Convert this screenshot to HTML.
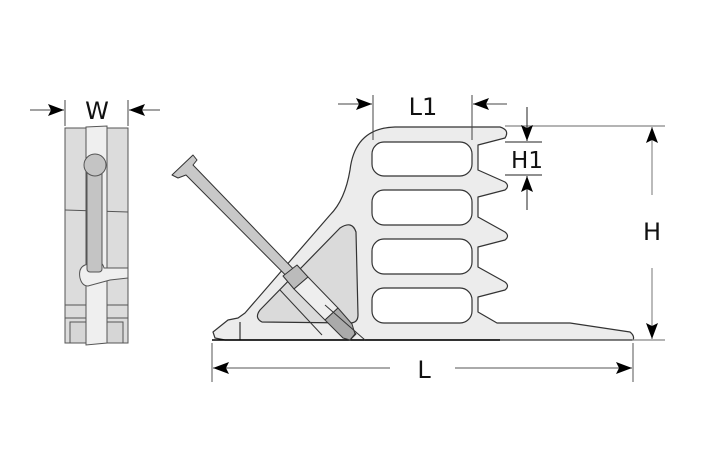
<!DOCTYPE html>
<html><head><style>body{margin:0;background:#fff}svg{display:block}text{font-family:"DejaVu Sans","Liberation Sans",sans-serif;fill:#111}</style></head>
<body>
<svg width="709" height="472" viewBox="0 0 709 472" xmlns="http://www.w3.org/2000/svg">
<defs>
<marker id="a" viewBox="0 0 16 12" refX="16" refY="6" markerWidth="16" markerHeight="12" orient="auto-start-reverse" markerUnits="userSpaceOnUse"><path d="M0,0 L16,6 L0,12 L3,6 z" fill="#000"/></marker>
</defs>
<!-- left view -->
<g stroke="#555" stroke-width="1">
<rect x="65" y="128" width="63" height="215" fill="#dcdcdc"/>
<line x1="65" y1="210" x2="128" y2="212"/>
<line x1="65" y1="305" x2="128" y2="305"/>
<line x1="65" y1="318" x2="128" y2="318"/>
<rect x="70" y="322" width="53" height="21" fill="#d6d6d6"/>
<path d="M86,127 L107,126 L107,343 L86,345 z" fill="#efefef"/>
<path d="M85,265 Q78,268 80,278 Q82,286 88,286 L110,280 L128,278 L128,268 L104,268 Q102,260 95,262 z" fill="#efefef"/>
<rect x="87" y="165" width="15" height="107" rx="3" fill="#c4c4c4"/>
<circle cx="95" cy="165" r="11" fill="#c4c4c4"/>
</g>
<!-- W dimension -->
<g stroke="#444" stroke-width="1">
<line x1="65" y1="100" x2="65" y2="126"/><line x1="128" y1="100" x2="128" y2="126"/>
<line x1="30" y1="110" x2="64" y2="110" marker-end="url(#a)"/>
<line x1="160" y1="110" x2="129" y2="110" marker-end="url(#a)"/>
</g>
<text x="97" y="119" font-size="24" text-anchor="middle">W</text>
<!-- main body -->
<g stroke="#333" stroke-width="1.2" stroke-linejoin="round">
<path d="M215,338 L213,332 L228,320 L238,318 L245,313 L330,215 Q345,200 350,170 Q355,128 395,127 L500,127 Q510,130 505,138 L478,145 L478,170 L505,182 Q510,186 505,190 L478,197 L478,217 L505,232 Q510,236 505,240 L478,247 L478,267 L505,282 Q510,286 505,290 L478,297 L478,312 L497,323 L570,323 L630,332 Q635,336 633,340 L225,340 Z" fill="#ececec"/>
<path d="M262,322 Q254,318 260,310 L340,228 Q352,220 356,232 L358,315 Q358,323 350,323 Z" fill="#dadada"/>
<rect x="372" y="142" width="100" height="34" rx="12" fill="#fff"/>
<rect x="372" y="190" width="100" height="35" rx="12" fill="#fff"/>
<rect x="372" y="239" width="100" height="35" rx="12" fill="#fff"/>
<rect x="372" y="288" width="100" height="35" rx="12" fill="#fff"/>
<line x1="240" y1="340" x2="240" y2="322"/>
</g>
<line x1="212" y1="340" x2="500" y2="340" stroke="#000" stroke-width="1.5"/>
<!-- tool -->
<g stroke="#333" stroke-width="1" stroke-linejoin="round">
<path d="M172,175 L193,155 L197,160 L193,165 L356,334 L350,340 L186,175 L178,178 Z" fill="#c8c8c8"/>
<path d="M283,276 L297,265 L308,277 L294,289 Z" fill="#bbb"/>
<path d="M294,289 L308,277 L338,308 L325,320 Z" fill="#eee"/>
<path d="M325,320 L338,308 L352,324 L355,334 L350,340 L343,338 Z" fill="#aaa"/>
<line x1="280" y1="290" x2="322" y2="335"/>
<line x1="325" y1="305" x2="365" y2="340"/>
</g>
<!-- L1 -->
<g stroke="#444" stroke-width="1">
<line x1="373" y1="95" x2="373" y2="140"/><line x1="472" y1="95" x2="472" y2="140"/>
<line x1="338" y1="104" x2="372" y2="104" marker-end="url(#a)"/>
<line x1="507" y1="104" x2="473" y2="104" marker-end="url(#a)"/>
</g>
<text x="423" y="115" font-size="24" text-anchor="middle">L1</text>
<!-- H1 / H -->
<g stroke="#888" stroke-width="1.2">
<line x1="505" y1="126" x2="665" y2="126"/>
<line x1="632" y1="340" x2="665" y2="340"/>
</g>
<g stroke="#222" stroke-width="1">
<line x1="505" y1="142" x2="542" y2="142"/><line x1="505" y1="175" x2="542" y2="175"/>
<line x1="527" y1="107" x2="527" y2="141" marker-end="url(#a)"/>
<line x1="527" y1="210" x2="527" y2="176" marker-end="url(#a)"/>
</g>
<text x="527" y="168" font-size="23" text-anchor="middle">H1</text>
<g stroke="#777" stroke-width="1">
<line x1="652" y1="195" x2="652" y2="127" marker-end="url(#a)"/>
<line x1="652" y1="268" x2="652" y2="339" marker-end="url(#a)"/>
</g>
<text x="652" y="240" font-size="24" text-anchor="middle">H</text>
<!-- L -->
<g stroke="#555" stroke-width="1">
<line x1="212" y1="343" x2="212" y2="382"/><line x1="633" y1="343" x2="633" y2="382"/>
<line x1="390" y1="368" x2="213" y2="368" marker-end="url(#a)"/>
<line x1="455" y1="368" x2="632" y2="368" marker-end="url(#a)"/>
</g>
<text x="424" y="378" font-size="24" text-anchor="middle">L</text>
</svg>
</body></html>
